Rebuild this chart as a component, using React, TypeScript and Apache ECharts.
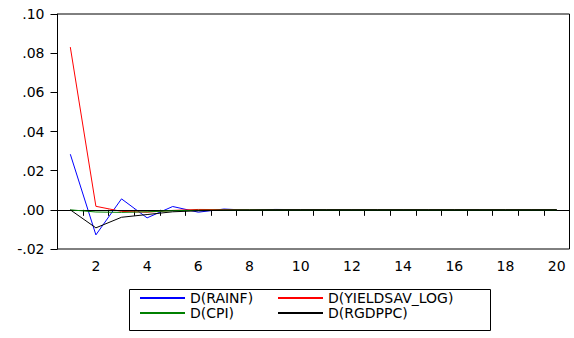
import React, { useEffect, useRef } from "react";
import * as echarts from "echarts";

const periods = ["1","2","3","4","5","6","7","8","9","10","11","12","13","14","15","16","17","18","19","20"];
const rainf = [0.0284, -0.0128, 0.0056, -0.0041, 0.0017, -0.0012, 0.0004, -0.0002, 0.0002, 0.0001, 0, 0, 0, 0, 0, 0, 0, 0, 0, 0];
const yieldsav = [0.0831, 0.0018, -0.0008, -0.0012, -0.0003, 0.0002, 0.0001, 0, 0, 0, 0, 0, 0, 0, 0, 0, 0, 0, 0, 0];
const cpi = [0, -0.0011, -0.0013, -0.001, -0.0005, -0.0002, -0.0001, 0, 0, 0, 0, 0, 0, 0, 0, 0, 0, 0, 0, 0];
const rgdppc = [0, -0.0092, -0.0038, -0.0024, -0.001, -0.0005, -0.0002, -0.0001, 0, 0, 0, 0, 0, 0, 0, 0, 0, 0, 0, 0];
const seriesNames = ["D(RAINF)", "D(YIELDSAV_LOG)", "D(CPI)", "D(RGDPPC)"];
const seriesColors = ["#0000ff", "#ff0000", "#008000", "#000000"];

export default function App() {
  const ref = useRef<HTMLDivElement>(null);
  useEffect(() => {
    if (!ref.current) return;
    const chart = echarts.init(ref.current, null, { renderer: "svg" });
    const font = "DejaVu Sans";
    const data = [rainf, yieldsav, cpi, rgdppc];
    const legendCommon = {
      orient: "vertical",
      top: 291,
      itemWidth: 45,
      itemHeight: 14,
      itemGap: 1,
      padding: 0,
      itemStyle: { opacity: 0 },
      textStyle: { fontFamily: font, fontSize: 14, color: "#000" },
    };
    chart.setOption({
      animation: false,
      backgroundColor: "#ffffff",
      grid: {
        left: 57.5,
        top: 14,
        width: 512,
        height: 235,
        show: true,
        borderColor: "#000",
        borderWidth: 1,
        backgroundColor: "transparent",
      },
      xAxis: {
        type: "category",
        data: periods,
        boundaryGap: true,
        axisLine: { show: true, lineStyle: { color: "#000", width: 1 } },
        axisTick: { show: true, interval: 0, length: 6, inside: false, lineStyle: { color: "#000" } },
        axisLabel: {
          interval: (index: number) => index % 2 === 1,
          margin: 10,
          color: "#000",
          fontFamily: font,
          fontSize: 14,
        },
        splitLine: { show: false },
      },
      yAxis: {
        type: "value",
        min: -0.02,
        max: 0.1,
        interval: 0.02,
        axisLine: { show: true, lineStyle: { color: "#000", width: 1 } },
        axisTick: { show: true, length: 7, inside: false, lineStyle: { color: "#000" } },
        axisLabel: {
          margin: 13,
          color: "#000",
          fontFamily: font,
          fontSize: 14,
          formatter: (v: number) => v.toFixed(2).replace(/^(-?)0\./, "$1."),
        },
        splitLine: { show: false },
      },
      legend: [
        { ...legendCommon, data: [seriesNames[0], seriesNames[2]], left: 139 },
        { ...legendCommon, data: [seriesNames[1], seriesNames[3]], left: 277 },
      ],
      graphic: [
        {
          type: "rect",
          shape: { x: 129.5, y: 289.5, width: 361, height: 41 },
          style: { fill: "none", stroke: "#000", lineWidth: 1 },
          silent: true,
        },
      ],
      series: data.map((d, i) => ({
        name: seriesNames[i],
        type: "line",
        data: d,
        symbol: "none",
        showSymbol: false,
        color: seriesColors[i],
        lineStyle: { color: seriesColors[i], width: 1 },
        z: 3 + i,
        markLine:
          i === 0
            ? {
                silent: true,
                symbol: ["none", "none"],
                label: { show: false },
                lineStyle: { color: "#000", width: 1, type: "solid" },
                data: [{ yAxis: 0 }],
              }
            : undefined,
      })),
    });
    return () => chart.dispose();
  }, []);
  return (
    <div
      ref={ref}
      style={{ position: "fixed", left: 0, top: 0, width: 574, height: 338 }}
    />
  );
}
